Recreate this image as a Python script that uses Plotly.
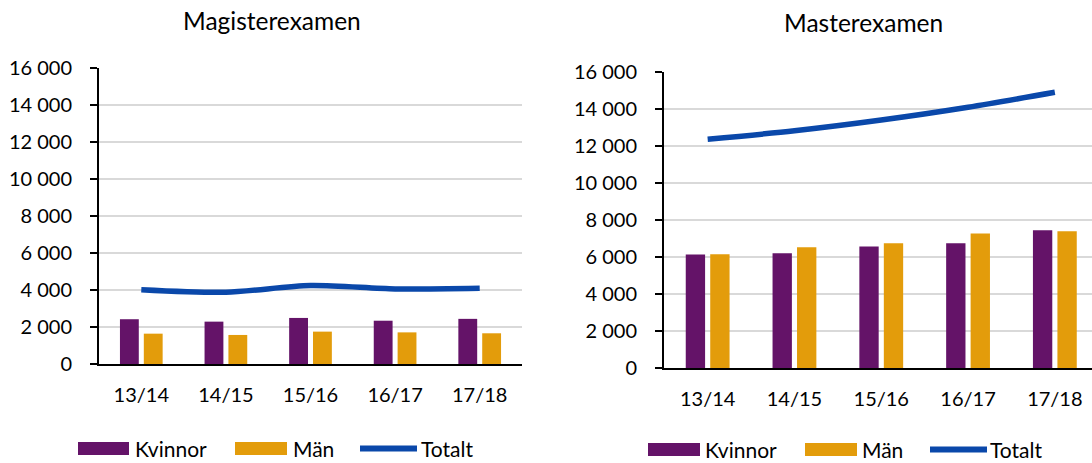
import plotly.graph_objects as go

# ---------------- data ----------------
years = ["13/14", "14/15", "15/16", "16/17", "17/18"]

mag_kvinnor = [2420, 2290, 2490, 2340, 2440]
mag_man = [1640, 1570, 1750, 1710, 1660]
mag_totalt = [4020, 3880, 4240, 4060, 4100]

mas_kvinnor = [6150, 6220, 6580, 6760, 7460]
mas_man = [6160, 6540, 6760, 7280, 7410]
mas_totalt = [12380, 12840, 13420, 14110, 14920]

y_ticks = [0, 2000, 4000, 6000, 8000, 10000, 12000, 14000, 16000]
series_names = ["Kvinnor", "Män", "Totalt"]
titles = ["Magisterexamen", "Masterexamen"]

# ---------------- style ----------------
PURPLE = "#641368"
ORANGE = "#E39C0B"
BLUE = "#0A48AA"
GRID = "#D9D9D9"
W, H = 1092, 463
FONT = "Lato"


def px(xp):
    return xp / W


def py(yp):
    return 1 - yp / H


fig = go.Figure()

panels = [
    ("x", "y", mag_kvinnor, mag_man, mag_totalt),
    ("x2", "y2", mas_kvinnor, mas_man, mas_totalt),
]
for xa, ya, kv, ma, tot in panels:
    fig.add_trace(go.Bar(x=years, y=kv, name=series_names[0], marker=dict(color=PURPLE, line=dict(width=0)),
                         xaxis=xa, yaxis=ya, offsetgroup="k", showlegend=False))
    fig.add_trace(go.Bar(x=years, y=ma, name=series_names[1], marker=dict(color=ORANGE, line=dict(width=0)),
                         xaxis=xa, yaxis=ya, offsetgroup="m", showlegend=False))
    fig.add_trace(go.Scatter(x=years, y=tot, name=series_names[2], mode="lines",
                             line=dict(color=BLUE, width=5.5, shape="spline", smoothing=0.8),
                             xaxis=xa, yaxis=ya, showlegend=False))

xcommon = dict(type="category", showline=True, linecolor="black", linewidth=2, ticks="",
               showgrid=False, zeroline=False, tickfont=dict(size=20, family=FONT, color="black"),
               ticklabelstandoff=12)
ycommon = dict(range=[0, 16000], tickvals=y_ticks, tickformat=",d", showgrid=True, gridcolor=GRID,
               gridwidth=1.5, showline=True, linecolor="black", linewidth=2, ticks="outside",
               ticklen=7, tickwidth=2, tickcolor="black", zeroline=False,
               tickfont=dict(size=20, family=FONT, color="black"), ticklabelstandoff=14)

fig.update_layout(
    xaxis=dict(xcommon, domain=[px(99), px(522)], anchor="y", range=[-0.5, 4.5]),
    yaxis=dict(ycommon, domain=[py(364), py(68)], anchor="x"),
    xaxis2=dict(xcommon, domain=[px(664), 1.0], anchor="y2", range=[-0.503, 4.428]),
    yaxis2=dict(ycommon, domain=[py(368.3), py(72.3)], anchor="x2"),
)

# titles
annotations = [
    dict(text=titles[0], x=px(272), y=py(20), xref="paper", yref="paper", xanchor="center",
         yanchor="middle", showarrow=False, font=dict(size=24.5, family=FONT, color="black")),
    dict(text=titles[1], x=px(863), y=py(22), xref="paper", yref="paper", xanchor="center",
         yanchor="middle", showarrow=False, font=dict(size=24.5, family=FONT, color="black")),
]

# manual legends (wide swatches as in the original)
shapes = []
legend_specs = [
    # (y_center, purple rect x, orange rect x, line x, text x positions)
    (448.5, (78, 129), (235, 287), (360, 417), (133, 291, 419)),
    (449.5, (648, 700), (805, 857), (930, 987), (703, 860, 988)),
]
for yc, prx, orx, lnx, txs in legend_specs:
    shapes.append(dict(type="rect", xref="paper", yref="paper", x0=px(prx[0]), x1=px(prx[1]),
                       y0=py(yc + 6.5), y1=py(yc - 6.5), fillcolor=PURPLE, line=dict(width=0)))
    shapes.append(dict(type="rect", xref="paper", yref="paper", x0=px(orx[0]), x1=px(orx[1]),
                       y0=py(yc + 6.5), y1=py(yc - 6.5), fillcolor=ORANGE, line=dict(width=0)))
    shapes.append(dict(type="line", xref="paper", yref="paper", x0=px(lnx[0]), x1=px(lnx[1]),
                       y0=py(yc), y1=py(yc), line=dict(color=BLUE, width=6)))
    for name, tx in zip(series_names, txs):
        annotations.append(dict(text=name, x=px(tx), y=py(yc), xref="paper", yref="paper",
                                xanchor="left", yanchor="middle", showarrow=False,
                                font=dict(size=21, family=FONT, color="black")))

fig.update_layout(
    width=W, height=H,
    margin=dict(l=0, r=0, t=0, b=0, autoexpand=False),
    paper_bgcolor="white", plot_bgcolor="white",
    separators=". ",
    barmode="group", bargap=0.436, bargroupgap=0.21,
    font=dict(family=FONT, color="black"),
    annotations=annotations, shapes=shapes,
    showlegend=False,
)

# remove the browser's default body margin so the 1092x463 figure fills the window exactly
fig.write_html("out.html", config={"displayModeBar": False},
               post_script="document.body.style.margin='0';document.body.style.overflow='hidden';")
